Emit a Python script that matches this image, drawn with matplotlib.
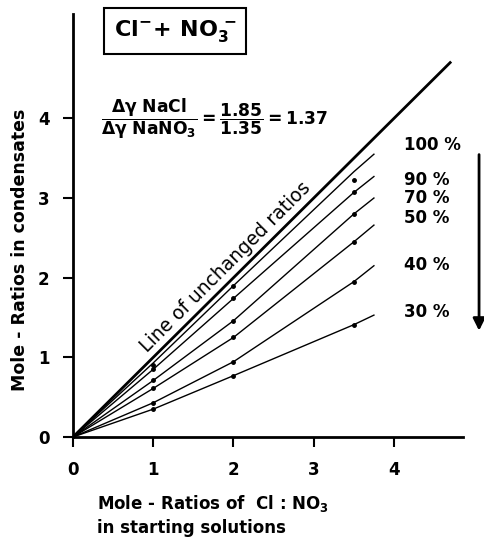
import matplotlib
matplotlib.use("Agg")
import matplotlib.pyplot as plt

plt.rcParams['font.family'] = ['DejaVu Sans']
plt.rcParams['mathtext.fontset'] = 'custom'
plt.rcParams['mathtext.rm'] = 'DejaVu Sans:bold'
plt.rcParams['mathtext.it'] = 'DejaVu Sans:bold'
plt.rcParams['mathtext.bf'] = 'DejaVu Sans:bold'

# ---- data ----
series_labels = ["100 %", "90 %", "70 %", "50 %", "40 %", "30 %"]
line_x = [0, 1, 2, 3.5, 3.75]
line_y = {
    "100 %": [0, 0.93, 1.90, 3.33, 3.55],
    "90 %":  [0, 0.85, 1.74, 3.07, 3.27],
    "70 %":  [0, 0.71, 1.46, 2.80, 3.00],
    "50 %":  [0, 0.61, 1.25, 2.45, 2.66],
    "40 %":  [0, 0.43, 0.945, 1.95, 2.15],
    "30 %":  [0, 0.35, 0.77, 1.41, 1.53],
}
point_x = [1, 2, 3.5]
point_y = {
    "100 %": [0.90, 1.89, 3.23],
    "90 %":  [0.85, 1.74, 3.07],
    "70 %":  [0.71, 1.46, 2.80],
    "50 %":  [0.61, 1.25, 2.45],
    "40 %":  [0.43, 0.945, 1.95],
    "30 %":  [0.35, 0.77, 1.41],
}
label_y = [3.66, 3.22, 3.0, 2.75, 2.16, 1.57]
identity_x = [0, 4.7]
ticks = [0, 1, 2, 3, 4]

fig = plt.figure(figsize=(4.85, 5.4), dpi=100)
ax = fig.add_axes([73/485, 1-437/540, 390/485, 423/540])
ax.set_xlim(0, 4.86)
ax.set_ylim(0, 5.31)

for s in ["top", "right"]:
    ax.spines[s].set_visible(False)
for s in ["left", "bottom"]:
    ax.spines[s].set_linewidth(2)

ax.set_xticks(ticks)
ax.set_yticks(ticks)
ax.set_xticklabels([str(t) for t in ticks], fontsize=12, fontweight='bold')
ax.set_yticklabels([str(t) for t in ticks], fontsize=12, fontweight='bold')
ax.tick_params(axis='both', length=7, width=1.5, pad=10)

# identity line
ax.plot(identity_x, identity_x, color='black', lw=2)

for lab, ly in zip(series_labels, label_y):
    ax.plot(line_x, line_y[lab], color='black', lw=1)
    ax.plot(point_x, point_y[lab], 'o', color='black', ms=2.5)
    ax.text(4.13, ly, lab, fontsize=12, fontweight='bold', ha='left', va='center')

ax.text(1.9, 2.13, "Line of unchanged ratios", rotation=45, fontsize=13.5,
        ha='center', va='center', rotation_mode='anchor')

ax.text(1.27, 5.1, r'$\mathrm{Cl}^{-}\!+\,\mathrm{NO}_3^{\,-}$', fontsize=16,
        ha='center', va='center',
        bbox=dict(boxstyle='square,pad=0.45', fc='white', ec='black', lw=1.5))

ax.text(1.76, 4.0, r'$\dfrac{\Delta\gamma\ \mathrm{NaCl}}{\Delta\gamma\ \mathrm{NaNO_3}} = \dfrac{1.85}{1.35} = 1.37$',
        fontsize=12.3, ha='center', va='center')

# arrow on the right
ax.annotate("", xy=(5.06, 1.3), xytext=(5.06, 3.58),
            arrowprops=dict(arrowstyle='-|>', color='black', lw=2,
                            mutation_scale=18),
            annotation_clip=False)

fig.text(20/485, 1-250/540, "Mole - Ratios in condensates", rotation=90,
         fontsize=12.5, fontweight='bold', ha='center', va='center')
fig.text(97/485, 1-503/540, r"Mole - Ratios of  Cl : NO$_3$", fontsize=12,
         fontweight='bold', ha='left', va='center')
fig.text(97/485, 1-528/540, "in starting solutions", fontsize=12,
         fontweight='bold', ha='left', va='center')

fig.savefig("out.png", dpi=100)
